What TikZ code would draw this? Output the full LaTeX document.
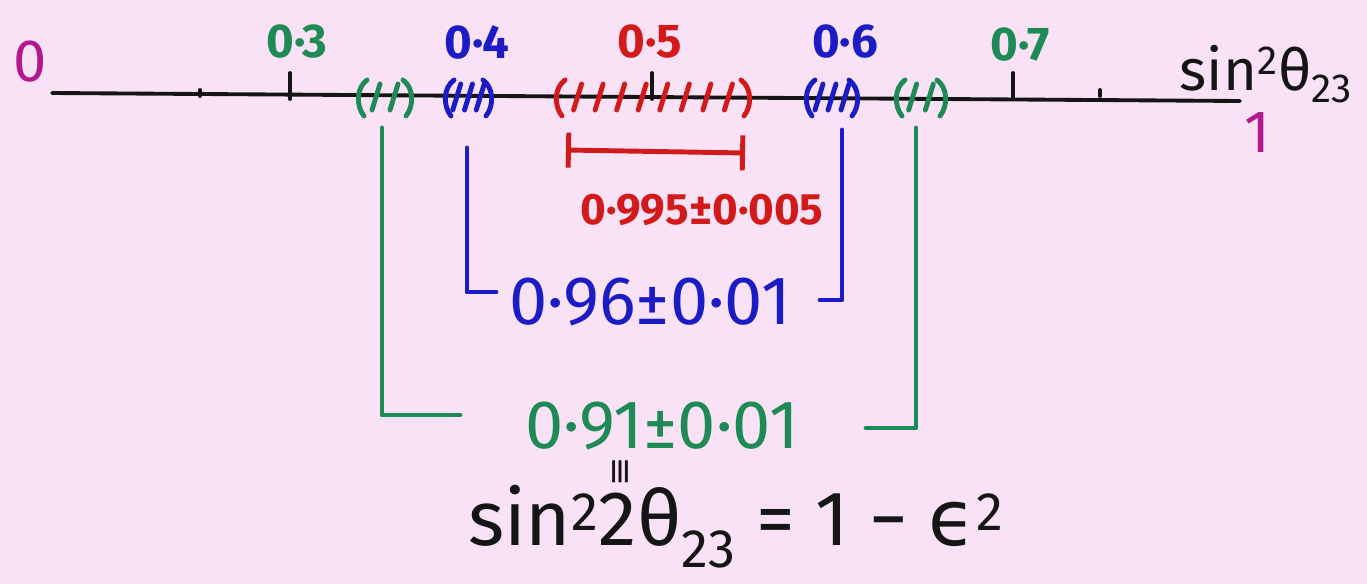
\documentclass[tikz,border=0pt]{standalone}
\usepackage{fontspec}
\setmainfont{Fira Sans}
\newfontfamily\symfont{DejaVu Sans}
\usetikzlibrary{arrows.meta,positioning}
\definecolor{BoardPink}{HTML}{F9E2F6}
\definecolor{PenGreen}{HTML}{1E8A55}
\definecolor{PenBlue}{HTML}{1C1CC4}
\definecolor{PenRed}{HTML}{D21A1A}
\definecolor{PenMagenta}{HTML}{B01A8E}
\definecolor{PenBlack}{HTML}{151515}

\begin{document}
\begin{tikzpicture}[x=0.02cm, y=-0.02cm, line cap=round, line join=round,
  pen/.style={line width=2.8pt},
  axisline/.style={line width=2.2pt, PenBlack},
  ticklab/.style={font=\fontsize{27}{29}\selectfont\bfseries},
  endlab/.style={font=\fontsize{34}{36}\selectfont, PenMagenta},
  errlab/.style={font=\fontsize{25}{27}\selectfont\bfseries, PenRed},
  rangelab/.style={font=\fontsize{39}{41}\selectfont},
  eqlab/.style={font=\fontsize{44}{46}\selectfont, PenBlack}]
  \fill[BoardPink] (0,0) rectangle (1367,584);
  \useasboundingbox (0,0) rectangle (1367,584);
  % number line
  \coordinate (ax0) at (52,93);
  \coordinate (ax1) at (1240,101);
  \draw[axisline] (ax0) -- (ax1);
  \foreach \x in {290,652,1013}{\draw[axisline] (\x,73) -- (\x,99);}
  \foreach \x in {200,1100}{\draw[axisline] (\x,90) -- (\x,96);}
  \node[endlab] (zero) at (30,62) {0};
  \node[endlab] (one) at (1257,133) {1};
  \node[font=\fontsize{33}{35}\selectfont, PenBlack] (var) at (1266,74) {sin\textsuperscript{2}θ\textsubscript{23}};
  % tick labels
  \node[ticklab, PenGreen] (l3) at (297,42) {0·3};
  \node[ticklab, PenBlue] (l4) at (477,42) {0·4};
  \node[ticklab, PenRed] (l5) at (650,42) {0·5};
  \node[ticklab, PenBlue] (l6) at (845,42) {0·6};
  \node[ticklab, PenGreen] (l7) at (1020,45) {0·7};
  % hatched bands
  \foreach \a/\b/\n/\c in {358/412/2/PenGreen,445/492/3/PenBlue,556/750/8/PenRed,806/858/3/PenBlue,896/946/2/PenGreen}{
    \draw[pen,\c] (\a+9,80) .. controls (\a-2,88) and (\a-2,106) .. (\a+6,116);
    \draw[pen,\c] (\b-9,80) .. controls (\b+2,88) and (\b+2,106) .. (\b-6,116);
    \foreach \k in {1,...,\n}{
      \pgfmathsetmacro\sx{\a+(\b-\a)*\k/(\n+1)}
      \draw[pen,\c] (\sx-4,110) -- (\sx+4,84);
    }
  }
  % 0.995 error bar
  \coordinate (rL) at (566,150);
  \coordinate (rR) at (745,153);
  \draw[pen, PenRed, {Bar[width=0.7cm]}-{Bar[width=0.7cm]}] (rL) -- (rR);
  \node[errlab] (v995) at (702,210) {0·995±0·005};
  % range labels with brackets
  \node[rangelab, PenBlue] (v96) at (650,302) {0·96±0·01};
  \node[rangelab, PenGreen] (v91) at (662,426) {0·91±0·01};
  \coordinate (bLt) at (467,148);
  \coordinate (bLb) at (496,292);
  \coordinate (bRt) at (842,130);
  \coordinate (bRb) at (820,300);
  \coordinate (gLt) at (382,128);
  \coordinate (gLb) at (460,415);
  \coordinate (gRt) at (916,128);
  \coordinate (gRb) at (866,428);
  \draw[pen, PenBlue] (bLt) |- (bLb);
  \draw[pen, PenBlue] (bRt) |- (bRb);
  \draw[pen, PenGreen] (gLt) |- (gLb);
  \draw[pen, PenGreen] (gRt) |- (gRb);
  % equation
  \node[font=\fontsize{20}{22}\selectfont\symfont, PenBlack, rotate=90, inner sep=0pt] (same) at (622,472) {≡};
  \node[eqlab] (eq) at (736,527) {sin\textsuperscript{2}2θ\textsubscript{23} = 1 − {\symfont ϵ}\textsuperscript{2}};
\end{tikzpicture}
\end{document}
